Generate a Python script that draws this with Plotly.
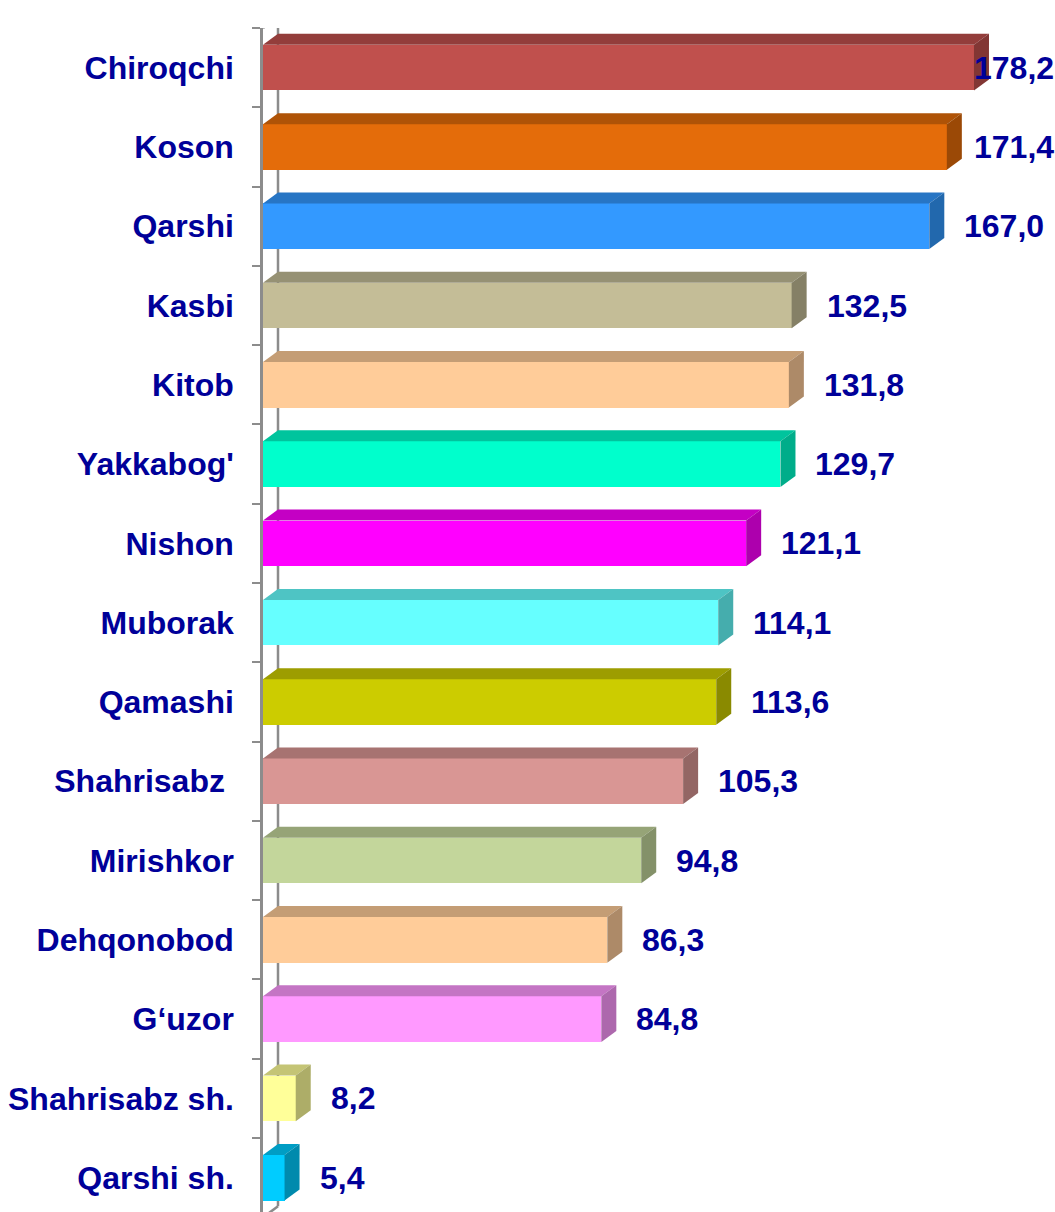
import plotly.graph_objects as go

# ---- data ----
districts = ["Chiroqchi", "Koson", "Qarshi", "Kasbi", "Kitob", "Yakkabog'", "Nishon",
             "Muborak", "Qamashi", "Shahrisabz ", "Mirishkor", "Dehqonobod", "G‘uzor",
             "Shahrisabz sh.", "Qarshi sh."]
values = [178.2, 171.4, 167.0, 132.5, 131.8, 129.7, 121.1, 114.1, 113.6, 105.3, 94.8,
          86.3, 84.8, 8.2, 5.4]
value_labels = ["178,2", "171,4", "167,0", "132,5", "131,8", "129,7", "121,1", "114,1",
                "113,6", "105,3", "94,8", "86,3", "84,8", "8,2", "5,4"]

# ---- styles ----
front_colors = ["#C0504D", "#E46C0A", "#3399FF", "#C4BD97", "#FFCC99", "#00FFCC", "#FF00FF",
                "#66FFFF", "#CCCC00", "#D99694", "#C3D69B", "#FFCC99", "#FF99FF", "#FFFF99",
                "#00CCFF"]


def shade(hex_color, f):
    h = hex_color.lstrip("#")
    r, g, b = (int(h[i:i + 2], 16) for i in (0, 2, 4))
    return "rgb({},{},{})".format(int(r * f), int(g * f), int(b * f))


W, H = 1055, 1212
ML, MR, MT, MB = 263, 14, 28, 0
XMAX = 195.0
plot_w = W - ML - MR
plot_h = H - MT - MB
px_x = plot_w / XMAX
spacing_px = 79.29
y_span = plot_h / spacing_px
y_range = [-0.5 + y_span, -0.5]
px_y = spacing_px

bar_w = 0.575
dx = 15 / px_x          # depth in x data units
dy = 11 / px_y          # depth in y data units
txt_color = "#000099"
wall_color = "#8C8C8C"
FS = 32
FONT = "Liberation Sans, Arial, sans-serif"

idx = list(range(len(districts)))

fig = go.Figure()
fig.add_trace(go.Bar(
    x=values, y=idx, orientation="h", width=bar_w,
    marker=dict(color=front_colors, line=dict(width=0)),
    hoverinfo="skip", showlegend=False, cliponaxis=False,
))

shapes = []
for i, v in enumerate(values):
    c = front_colors[i]
    yt = i - bar_w / 2
    yb = i + bar_w / 2
    # top face
    shapes.append(dict(type="path", xref="x", yref="y",
                       path=f"M 0 {yt} L {dx} {yt - dy} L {v + dx} {yt - dy} L {v} {yt} Z",
                       fillcolor=shade(c, 0.77), line=dict(width=0), layer="above"))
    # side face
    shapes.append(dict(type="path", xref="x", yref="y",
                       path=f"M {v} {yt} L {v + dx} {yt - dy} L {v + dx} {yb - dy} L {v} {yb} Z",
                       fillcolor=shade(c, 0.68), line=dict(width=0), layer="above"))

# back wall and wall edges
y_top = -0.5
n = len(districts)
shapes.append(dict(type="line", xref="x", yref="y", x0=dx, x1=dx, y0=y_top - dy, y1=n - 0.5 - dy,
                   line=dict(color=wall_color, width=2.5), layer="below"))
shapes.append(dict(type="line", xref="x", yref="y", x0=0, x1=dx, y0=y_top, y1=y_top - dy,
                   line=dict(color=wall_color, width=2.5), layer="below"))
shapes.append(dict(type="line", xref="x", yref="y", x0=0, x1=dx, y0=n - 0.5, y1=n - 0.5 - dy,
                   line=dict(color=wall_color, width=2.5), layer="below"))

# value labels
label_gap = 18 / px_x
label_w_px = 80
x_limit = (W - 3 - label_w_px - ML) / px_x
annotations = []
for i, (v, t) in enumerate(zip(values, value_labels)):
    ax = min(v + dx + label_gap, x_limit)
    annotations.append(dict(x=ax, y=i, xref="x", yref="y", text=t, showarrow=False,
                            xanchor="left", yanchor="middle",
                            font=dict(family=FONT, size=FS, color=txt_color, weight="bold")))

fig.update_layout(
    width=W, height=H,
    margin=dict(l=ML, r=MR, t=MT, b=MB, pad=0, autoexpand=False),
    paper_bgcolor="white", plot_bgcolor="white",
    shapes=shapes, annotations=annotations,
    bargap=0,
    xaxis=dict(range=[0, XMAX], visible=False, showgrid=False, zeroline=False,
               fixedrange=True, automargin=False),
    yaxis=dict(range=y_range, tickvals=idx, ticktext=districts, showgrid=False, zeroline=False,
               showline=True, linecolor=wall_color, linewidth=2.5, automargin=False,
               ticks="", ticklabelstandoff=20,
               tickfont=dict(family=FONT, size=FS, color=txt_color, weight="bold"),
               minor=dict(tickvals=[k - 0.5 for k in range(n + 1)],
                          ticks="outside", ticklen=8, tickwidth=2, tickcolor=wall_color),
               fixedrange=True),
)

fig.write_html(
    "out.html",
    config={"displayModeBar": False},
    post_script="document.body.style.margin='0';document.body.style.padding='0';"
                "document.body.style.overflow='hidden';",
)
